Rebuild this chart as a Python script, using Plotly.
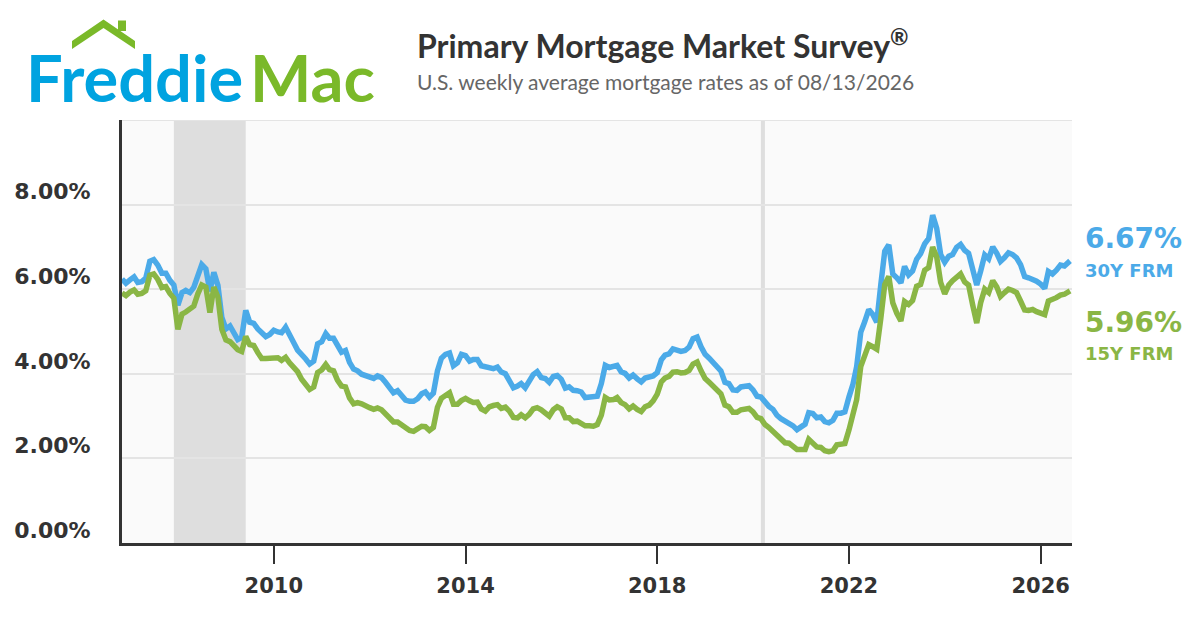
import pandas as pd
import plotly.graph_objects as go

# monthly readings, Nov 2006 .. Aug 2026 (last point = 08/13/2026)
rate_30y = [
    6.24, 6.14,                                                              # 2006
    6.22, 6.29, 6.16, 6.18, 6.26, 6.66, 6.70, 6.57, 6.38, 6.38, 6.21, 6.10,  # 2007
    5.62, 5.92, 5.97, 5.92, 6.04, 6.32, 6.58, 6.48, 5.95, 6.40, 6.09, 5.33,  # 2008
    5.06, 5.13, 5.00, 4.81, 4.86, 5.50, 5.22, 5.19, 5.06, 4.95, 4.88, 4.93,  # 2009
    5.03, 4.99, 4.97, 5.10, 4.89, 4.74, 4.56, 4.43, 4.35, 4.23, 4.30, 4.71,  # 2010
    4.76, 4.95, 4.84, 4.84, 4.64, 4.51, 4.55, 4.27, 4.11, 4.07, 3.99, 3.96,  # 2011
    3.92, 3.89, 3.95, 3.91, 3.80, 3.68, 3.55, 3.60, 3.50, 3.38, 3.35, 3.35,  # 2012
    3.41, 3.53, 3.57, 3.45, 3.54, 4.07, 4.37, 4.46, 4.49, 4.19, 4.26, 4.46,  # 2013
    4.43, 4.30, 4.34, 4.34, 4.19, 4.16, 4.13, 4.12, 4.16, 4.04, 4.00, 3.86,  # 2014
    3.67, 3.71, 3.77, 3.67, 3.84, 3.98, 4.05, 3.91, 3.89, 3.80, 3.94, 3.96,  # 2015
    3.87, 3.66, 3.69, 3.61, 3.60, 3.57, 3.44, 3.44, 3.46, 3.47, 3.77, 4.20,  # 2016
    4.15, 4.17, 4.20, 4.05, 4.01, 3.90, 3.97, 3.88, 3.81, 3.90, 3.92, 3.95,  # 2017
    4.03, 4.33, 4.44, 4.47, 4.59, 4.57, 4.53, 4.55, 4.63, 4.83, 4.87, 4.64,  # 2018
    4.46, 4.37, 4.27, 4.14, 4.07, 3.80, 3.77, 3.62, 3.61, 3.69, 3.70, 3.72,  # 2019
    3.62, 3.47, 3.45, 3.31, 3.23, 3.16, 3.02, 2.94, 2.89, 2.83, 2.77, 2.68,  # 2020
    2.74, 2.81, 3.08, 3.06, 2.96, 2.98, 2.87, 2.84, 2.90, 3.07, 3.07, 3.10,  # 2021
    3.45, 3.76, 4.17, 4.98, 5.23, 5.52, 5.41, 5.22, 6.11, 6.90, 7.05, 6.36,  # 2022
    6.27, 6.15, 6.54, 6.34, 6.43, 6.71, 6.84, 7.07, 7.20, 7.75, 7.44, 6.82,  # 2023
    6.64, 6.78, 6.82, 6.99, 7.06, 6.92, 6.85, 6.50, 6.10, 6.43, 6.81, 6.72,  # 2024
    7.00, 6.85, 6.66, 6.75, 6.86, 6.82, 6.74, 6.58, 6.30, 6.27, 6.24, 6.19,  # 2025
    6.12, 6.02, 6.42, 6.36, 6.45, 6.57, 6.55, 6.67,                          # 2026
]
rate_15y = [
    5.91, 5.85,                                                              # 2006
    5.93, 5.98, 5.88, 5.90, 5.96, 6.33, 6.36, 6.23, 6.04, 6.06, 5.90, 5.79,  # 2007
    5.05, 5.41, 5.46, 5.52, 5.60, 5.89, 6.10, 6.05, 5.45, 6.05, 5.81, 5.05,  # 2008
    4.80, 4.76, 4.67, 4.57, 4.53, 4.88, 4.69, 4.67, 4.50, 4.36, 4.36, 4.37,  # 2009
    4.39, 4.38, 4.32, 4.39, 4.26, 4.17, 4.05, 3.87, 3.77, 3.63, 3.69, 4.03,  # 2010
    4.09, 4.22, 4.10, 4.07, 3.85, 3.71, 3.69, 3.43, 3.29, 3.32, 3.29, 3.26,  # 2011
    3.20, 3.16, 3.19, 3.15, 3.06, 2.97, 2.86, 2.86, 2.79, 2.71, 2.66, 2.64,  # 2012
    2.71, 2.76, 2.75, 2.66, 2.73, 3.21, 3.42, 3.50, 3.55, 3.28, 3.28, 3.37,  # 2013
    3.42, 3.36, 3.32, 3.33, 3.17, 3.12, 3.22, 3.25, 3.27, 3.18, 3.21, 3.12,  # 2014
    2.97, 2.96, 3.03, 2.96, 3.04, 3.17, 3.20, 3.15, 3.08, 3.00, 3.15, 3.22,  # 2015
    3.17, 2.96, 2.96, 2.87, 2.88, 2.84, 2.77, 2.77, 2.76, 2.80, 3.02, 3.44,  # 2016
    3.38, 3.39, 3.44, 3.32, 3.27, 3.17, 3.24, 3.16, 3.11, 3.22, 3.26, 3.36,  # 2017
    3.52, 3.81, 3.90, 3.94, 4.04, 4.05, 4.02, 4.03, 4.08, 4.23, 4.28, 4.07,  # 2018
    3.89, 3.80, 3.71, 3.60, 3.53, 3.26, 3.22, 3.09, 3.09, 3.15, 3.15, 3.18,  # 2019
    3.10, 2.97, 2.94, 2.80, 2.73, 2.63, 2.56, 2.47, 2.37, 2.36, 2.30, 2.21,  # 2020
    2.21, 2.21, 2.45, 2.36, 2.27, 2.26, 2.18, 2.16, 2.18, 2.32, 2.33, 2.35,  # 2021
    2.67, 3.03, 3.39, 4.17, 4.43, 4.69, 4.64, 4.58, 5.31, 6.11, 6.30, 5.68,  # 2022
    5.43, 5.25, 5.71, 5.64, 5.73, 6.07, 6.11, 6.45, 6.51, 7.00, 6.76, 6.16,  # 2023
    5.89, 6.10, 6.20, 6.30, 6.36, 6.17, 6.10, 5.63, 5.20, 5.68, 6.00, 5.92,  # 2024
    6.20, 6.05, 5.83, 5.92, 6.00, 5.97, 5.92, 5.72, 5.51, 5.50, 5.52, 5.47,  # 2025
    5.44, 5.40, 5.72, 5.75, 5.80, 5.86, 5.88, 5.96,                          # 2026
]
dates = list(pd.date_range("2006-11-01", "2026-08-01", freq="MS"))
dates[-1] = pd.Timestamp("2026-08-13")

recessions = [("2007-12-01", "2009-06-01"), ("2020-03-01", "2020-04-01")]
year_ticks = ["2010-01-01", "2014-01-01", "2018-01-01", "2022-01-01", "2026-01-01"]
year_labels = ["2010", "2014", "2018", "2022", "2026"]
pct_ticks = [0, 2, 4, 6, 8]
pct_labels = ["0.00%", "2.00%", "4.00%", "6.00%", "8.00%"]

BLUE = "#4BAAE8"
GREEN = "#8AB645"
DARK = "#333333"

# page offset of the plot div (body margin), and plot area in page pixels
OFF = 8
W, H = 1200 - OFF, 630 - OFF
L, R, T, B = 122, 1072, 120, 543
def px(x):
    return (x - L) / (R - L)
def py(y):
    return (B - y) / (B - T)

fig = go.Figure()
fig.add_trace(go.Scatter(x=dates, y=rate_30y, mode="lines",
                         line=dict(color=BLUE, width=5.5), name="30Y FRM"))
fig.add_trace(go.Scatter(x=dates, y=rate_15y, mode="lines",
                         line=dict(color=GREEN, width=5.5), name="15Y FRM"))

for x0, x1 in recessions:
    fig.add_shape(type="rect", xref="x", yref="paper", x0=x0, x1=x1, y0=0, y1=1,
                  fillcolor="rgba(0,0,0,0.11)", line_width=0, layer="between")
# top grid line at 10%
fig.add_shape(type="line", xref="paper", yref="y", x0=0, x1=1, y0=10, y1=10,
              line=dict(color="#E4E4E4", width=2), layer="between")

# logo roof + chimney
roof = [(72, 49), (72, 41), (103.5, 19.5), (135, 41), (135, 49), (103.5, 28)]
path = "M " + " L ".join(f"{px(a)},{py(b)}" for a, b in roof) + " Z"
fig.add_shape(type="path", xref="paper", yref="paper", path=path,
              fillcolor="#7AB929", line_width=0)
fig.add_shape(type="rect", xref="paper", yref="paper", x0=px(118), x1=px(126),
              y0=py(31), y1=py(20.5), fillcolor="#7AB929", line_width=0)

def note(x, y, text, size, color, family="Lato", weight="normal"):
    fig.add_annotation(x=px(x), y=py(y), xref="paper", yref="paper", text=text,
                       showarrow=False, xanchor="left", yanchor="middle",
                       font=dict(family=family, size=size, color=color, weight=weight))

note(24, 77, "Freddie", 65, "#00A3E0", weight="bold")
note(248, 77, "Mac", 65, "#7AB929", weight="bold")
note(415, 44, "Primary Mortgage Market Survey<sup>®</sup>", 32, DARK, weight="bold")
note(415, 81, "U.S. weekly average mortgage rates as of 08/13/2026", 21, "#666666")

last30 = rate_30y[-1]
last15 = rate_15y[-1]
note(1083, 238, f"{last30:.2f}%", 28, BLUE, "DejaVu Sans", "bold")
note(1083, 270, "30Y FRM", 18, BLUE, "DejaVu Sans", "bold")
note(1083, 322, f"{last15:.2f}%", 28, GREEN, "DejaVu Sans", "bold")
note(1083, 353, "15Y FRM", 18, GREEN, "DejaVu Sans", "bold")

fig.update_layout(
    width=W, height=H,
    margin=dict(l=L - OFF, r=W - (R - OFF), t=T - OFF, b=H - (B - OFF)),
    paper_bgcolor="white", plot_bgcolor="#FAFAFA",
    showlegend=False, hovermode=False,
)
fig.update_xaxes(
    range=["2006-11-01", "2026-08-28"], automargin=False,
    tickvals=year_ticks, ticktext=year_labels,
    showgrid=False, zeroline=False,
    showline=True, linecolor=DARK, linewidth=3,
    ticks="outside", ticklen=18, tickwidth=2, tickcolor=DARK,
    ticklabelstandoff=4,
    tickfont=dict(family="DejaVu Sans", size=21, color=DARK, weight="bold"),
)
fig.update_yaxes(
    range=[0, 10], automargin=False, tickvals=pct_ticks, ticktext=pct_labels,
    showgrid=True, gridcolor="#E4E4E4", gridwidth=2, zeroline=False,
    showline=True, linecolor=DARK, linewidth=3, ticks="",
    ticklabelstandoff=24, ticklabelshift=-13,
    tickfont=dict(family="DejaVu Sans", size=22, color=DARK, weight="bold"),
)

fig.write_html("out.html")
